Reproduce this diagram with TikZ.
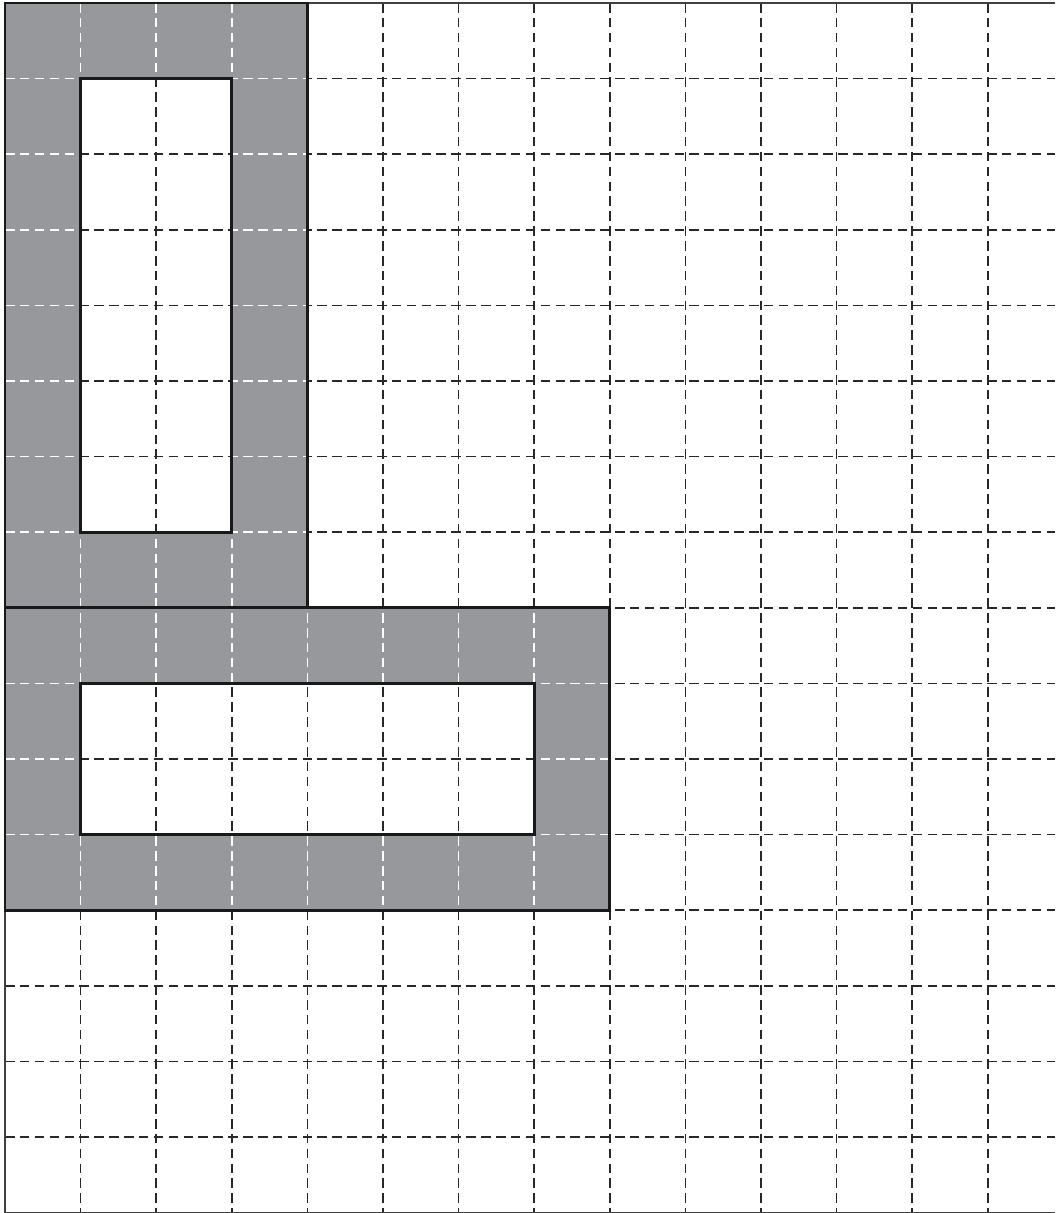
\documentclass[tikz,border=0pt]{standalone}
\definecolor{fillgray}{RGB}{151,152,156}
\definecolor{gridc}{RGB}{40,40,40}
\begin{document}
\begin{tikzpicture}[
  gridline/.style={gridc,line width=0.55pt,dash pattern=on 3.6pt off 2pt},
  whitegrid/.style={white,line width=0.55pt,dash pattern=on 3.6pt off 2pt},
  boxoutline/.style={black!90,line width=1.1pt},
  frameline/.style={black!75,line width=0.5pt}
]
\useasboundingbox (-0.066,-0.005) rectangle (13.89,16.04);
% dark dashed grid
\foreach \x in {1,...,13} \draw[gridline] (\x,16) -- (\x,0);
\foreach \y in {1,...,15} \draw[gridline] (0,\y) -- (13.89,\y);
% frame
\draw[frameline] (13.89,16) -- (0,16) -- (0,0) -- (13.89,0);
% gray frames
\fill[fillgray,even odd rule] (0,8) rectangle (4,16) (1,9) rectangle (3,15);
\fill[fillgray,even odd rule] (0,4) rectangle (8,8) (1,5) rectangle (7,7);
% white dashed grid inside gray
\begin{scope}[even odd rule]
  \clip (0,8) rectangle (4,16) (1,9) rectangle (3,15);
  \foreach \x in {1,...,3} \draw[whitegrid] (\x,16) -- (\x,0);
  \foreach \y in {9,...,15} \draw[whitegrid] (0,\y) -- (13.89,\y);
\end{scope}
\begin{scope}[even odd rule]
  \clip (0,4) rectangle (8,8) (1,5) rectangle (7,7);
  \foreach \x in {1,...,7} \draw[whitegrid] (\x,16) -- (\x,0);
  \foreach \y in {5,...,7} \draw[whitegrid] (0,\y) -- (13.89,\y);
\end{scope}
% outlines
\draw[boxoutline] (0,8) rectangle (4,16);
\draw[boxoutline] (1,9) rectangle (3,15);
\draw[boxoutline] (0,4) rectangle (8,8);
\draw[boxoutline] (1,5) rectangle (7,7);
\end{tikzpicture}
\end{document}
